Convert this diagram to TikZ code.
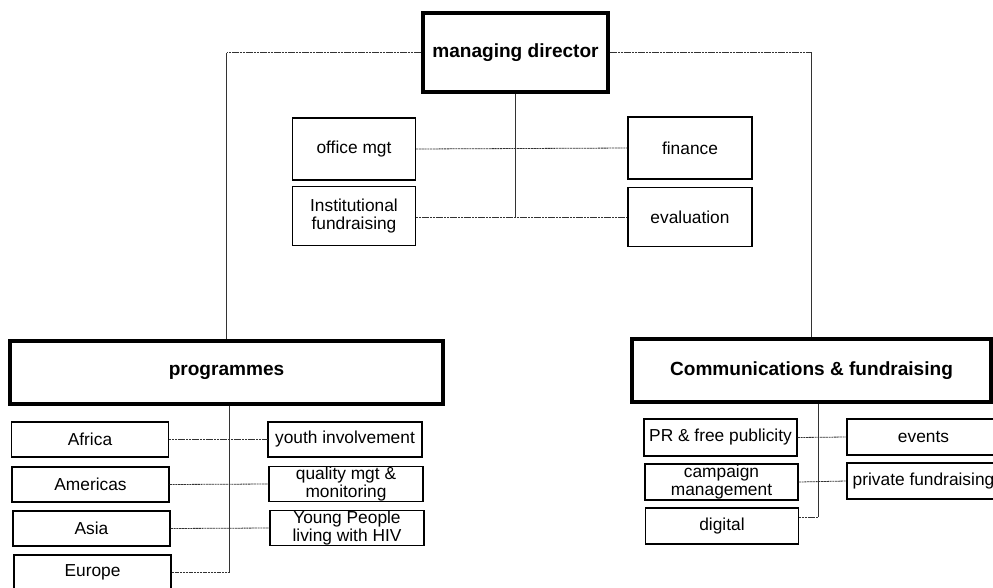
\documentclass[tikz,border=0pt]{standalone}
\usepackage{fontspec}
\setmainfont{Liberation Sans}
\usepackage{tikz}

\begin{document}
\begin{tikzpicture}[x=0.75pt, y=-0.75pt,
  head/.style={draw, line width=2.4pt, font=\fontsize{14.3}{16}\selectfont\bfseries, inner sep=0pt},
  unit/.style={draw, line width=1.1pt, font=\fontsize{13}{13.5}\selectfont, align=center, inner sep=0pt},
  link/.style={line width=0.6pt, black!80},
  hlink/.style={line width=0.6pt, black!80, dash pattern=on 1.6pt off 0.5pt}]
\useasboundingbox (0,0) rectangle (993,587);

% Top level
\node[head, minimum width=138.75pt, minimum height=59.25pt] (md) at (515.5,52.5) {managing director};

% Staff functions
\node[unit, minimum width=92pt, minimum height=46.5pt] (office) at (354,149) {office mgt};
\node[unit, minimum width=92pt, minimum height=44pt] (inst) at (354,216) {Institutional\\fundraising};
\node[unit, minimum width=93pt, minimum height=46.5pt] (finance) at (690,148) {finance};
\node[unit, minimum width=93pt, minimum height=44pt] (eval) at (690,217) {evaluation};

\draw[link] (md.south) -- (md.south |- eval.west);
\draw[hlink] (office.east) -- (finance.west);
\draw[hlink] (inst.east |- eval.west) -- (eval.west);

% Departments
\node[head, minimum width=324.75pt, minimum height=47.25pt] (prog) at (226.5,372.5) {programmes};
\node[head, minimum width=269.25pt, minimum height=47.25pt] (comms) at (811.5,370.5) {Communications \& fundraising};

\draw[hlink] (md.west) -- (prog.north |- md.west);
\draw[link] (prog.north |- md.west) -- (prog.north);
\draw[hlink] (md.east) -- (comms.north |- md.east);
\draw[link] (comms.north |- md.east) -- (comms.north);

% Programmes teams
\node[unit, minimum width=117.75pt, minimum height=26.25pt] (africa) at (90,439.5) {Africa};
\node[unit, minimum width=117.75pt, minimum height=26.25pt] (americas) at (90.5,484.5) {Americas};
\node[unit, minimum width=117.75pt, minimum height=26.25pt] (asia) at (91.5,528.5) {Asia};
\node[unit, minimum width=117.75pt, minimum height=26.25pt] (europe) at (92.5,572.5) {Europe};
\node[unit, minimum width=115.5pt, minimum height=26.25pt] (youth) at (345,439.5) {youth involvement};
\node[unit, minimum width=115.5pt, minimum height=26.25pt] (quality) at (346,484) {quality mgt \&\\monitoring};
\node[unit, minimum width=115.5pt, minimum height=26.25pt] (hiv) at (347,528) {Young People\\living with HIV};

\draw[link] ([xshift=2pt]prog.south) -- ([xshift=2pt]prog.south |- europe.east);
\draw[hlink] (europe.east) -- ([xshift=2pt]prog.south |- europe.east);
\draw[hlink] (africa.east) -- (youth.west);
\draw[hlink] (americas.east) -- (quality.west);
\draw[hlink] (asia.east) -- (hiv.west);

% Communications teams
\node[unit, minimum width=114.75pt, minimum height=27.75pt] (pr) at (720.5,437.5) {PR \& free publicity};
\node[unit, minimum width=114.75pt, minimum height=27pt] (campaign) at (721.5,482) {campaign\\management};
\node[unit, minimum width=114.75pt, minimum height=27pt] (digital) at (722,526) {digital};
\node[unit, minimum width=114.75pt, minimum height=27pt] (events) at (923.5,437) {events};
\node[unit, minimum width=114.75pt, minimum height=27pt] (private) at (923.5,481) {private fundraising};

\coordinate (dig) at ([yshift=6.75pt]digital.east);
\draw[link] ([xshift=5pt]comms.south) -- ([xshift=5pt]comms.south |- dig);
\draw[hlink] (dig) -- ([xshift=5pt]comms.south |- dig);
\draw[hlink] (pr.east) -- (events.west);
\draw[hlink] (campaign.east) -- (private.west);
\end{tikzpicture}
\end{document}
